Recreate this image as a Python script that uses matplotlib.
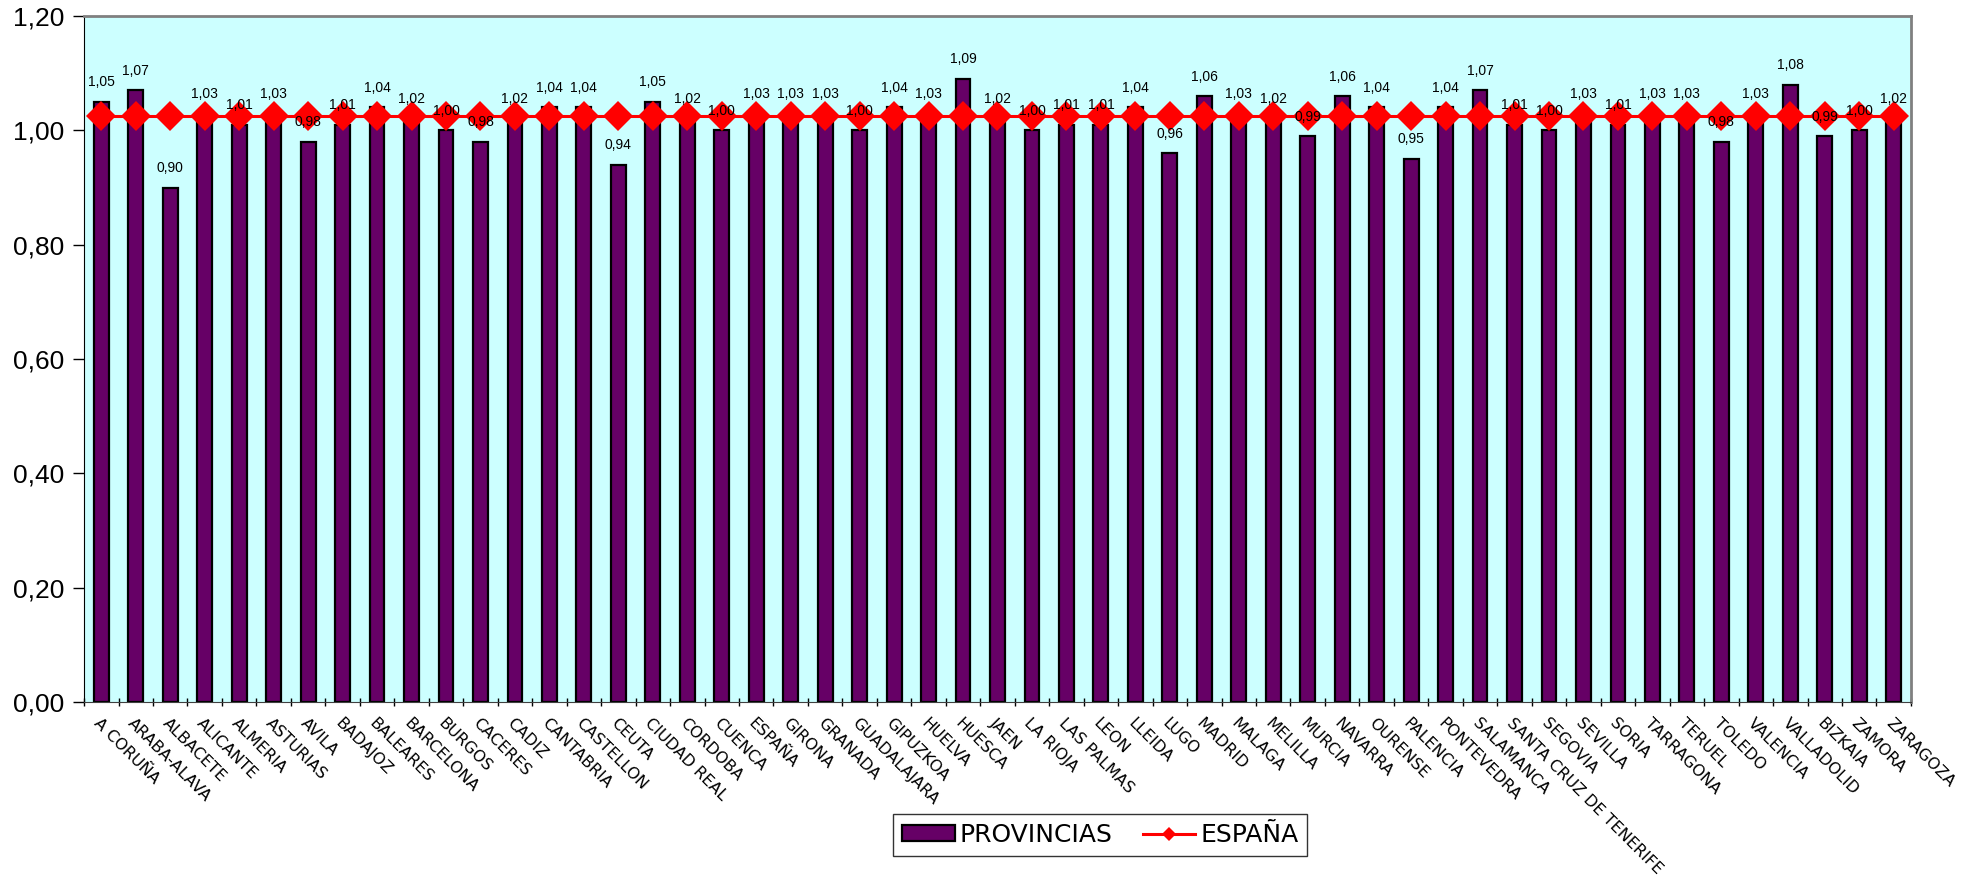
import matplotlib
matplotlib.use("Agg")
import matplotlib.pyplot as plt
import numpy as np

provincias = [
    "A CORUÑA", "ARABA-ALAVA", "ALBACETE", "ALICANTE", "ALMERIA", "ASTURIAS",
    "AVILA", "BADAJOZ", "BALEARES", "BARCELONA", "BURGOS", "CACERES", "CADIZ",
    "CANTABRIA", "CASTELLON", "CEUTA", "CIUDAD REAL", "CORDOBA", "CUENCA",
    "ESPAÑA", "GIRONA", "GRANADA", "GUADALAJARA", "GIPUZKOA", "HUELVA",
    "HUESCA", "JAEN", "LA RIOJA", "LAS PALMAS", "LEON", "LLEIDA", "LUGO",
    "MADRID", "MALAGA", "MELILLA", "MURCIA", "NAVARRA", "OURENSE", "PALENCIA",
    "PONTEVEDRA", "SALAMANCA", "SANTA CRUZ DE TENERIFE", "SEGOVIA", "SEVILLA",
    "SORIA", "TARRAGONA", "TERUEL", "TOLEDO", "VALENCIA", "VALLADOLID",
    "BIZKAIA", "ZAMORA", "ZARAGOZA",
]
valores = [
    1.05, 1.07, 0.90, 1.03, 1.01, 1.03,
    0.98, 1.01, 1.04, 1.02, 1.00, 0.98, 1.02,
    1.04, 1.04, 0.94, 1.05, 1.02, 1.00,
    1.03, 1.03, 1.03, 1.00, 1.04, 1.03,
    1.09, 1.02, 1.00, 1.01, 1.01, 1.04, 0.96,
    1.06, 1.03, 1.02, 0.99, 1.06, 1.04, 0.95,
    1.04, 1.07, 1.01, 1.00, 1.03,
    1.01, 1.03, 1.03, 0.98, 1.03, 1.08,
    0.99, 1.00, 1.02,
]
media_espana = 1.025
y_ticks = [0.0, 0.2, 0.4, 0.6, 0.8, 1.0, 1.2]


def coma(v):
    return f"{v:.2f}".replace(".", ",")


fig = plt.figure(figsize=(19.69, 8.81), dpi=100)
ax = fig.add_axes([0.0427, 0.2032, 0.9278, 0.7786])
ax.set_facecolor("#CCFFFF")

x = np.arange(len(provincias))
bars = ax.bar(x, valores, width=0.43, color="#660066", edgecolor="black",
              linewidth=1.6, zorder=2, label="PROVINCIAS")
linea, = ax.plot(x, [media_espana] * len(x), color="red", lw=2.2,
                 marker="D", markersize=15, markeredgewidth=0, zorder=3,
                 label="ESPAÑA")

for xi, v in zip(x, valores):
    ax.annotate(coma(v), (xi, v), xytext=(0, 9), textcoords="offset points",
                ha="center", va="bottom", fontsize=10,
                family="Liberation Sans", zorder=5)

ax.set_xlim(-0.5, len(x) - 0.5)
ax.set_ylim(0, 1.2)
ax.set_yticks(y_ticks)
ax.set_yticklabels([coma(t) for t in y_ticks], family="Liberation Sans",
                   fontsize=19)
ax.tick_params(axis="y", length=8, width=1, pad=6)

# category labels on major ticks, tick marks on category boundaries
ax.set_xticks(x)
ax.set_xticklabels(provincias, rotation=-45, ha="left", va="top",
                   rotation_mode="anchor", fontsize=11.5, family="DejaVu Sans")
ax.tick_params(axis="x", which="major", length=0, pad=10)
ax.set_xticks(np.arange(-0.5, len(x)), minor=True)
ax.tick_params(axis="x", which="minor", length=6, width=1, direction="inout")

for s in ("top", "right"):
    ax.spines[s].set_color("#808080")
    ax.spines[s].set_linewidth(2)
ax.spines["left"].set_color("black")
ax.spines["bottom"].set_color("#404040")

leg = fig.legend(handles=[bars, linea], loc="center",
                 bbox_to_anchor=(0.5588, 0.052), ncol=2, fontsize=18,
                 frameon=True, fancybox=False, edgecolor="black",
                 handlelength=2.1, handleheight=0.6, columnspacing=1.2,
                 handletextpad=0.2, borderpad=0.35, markerscale=0.5)
leg.get_frame().set_linewidth(1)

fig.savefig("out.png", dpi=100, facecolor="white")
